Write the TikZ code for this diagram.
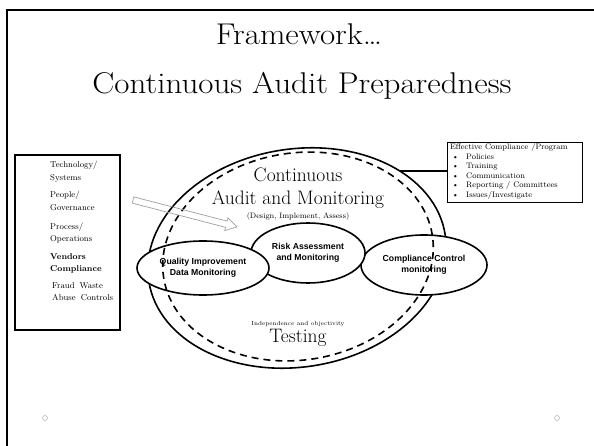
\documentclass[tikz,border=0pt]{standalone}
\usepackage{fontspec}
\setsansfont{Liberation Sans}
\usetikzlibrary{shapes.geometric,calc,shadows}
\begin{document}
\begin{tikzpicture}[x=1pt,y=-1pt,
  frame/.style={line width=2.6pt, black},
  titletxt/.style={anchor=base, inner sep=0pt, font=\fontsize{30}{32}\selectfont},
  lboxstyle/.style={draw, line width=1.6pt, minimum width=105pt, minimum height=175pt, inner sep=0pt},
  ltxt/.style={anchor=base west, inner sep=0pt, font=\fontsize{8.5}{10}\selectfont},
  rtxt/.style={anchor=base west, inner sep=0pt, font=\fontsize{8}{9}\selectfont},
  rboxstyle/.style={draw, line width=0.5pt, fill=white, minimum width=135pt, minimum height=60pt, inner sep=0pt,
     drop shadow={shadow xshift=1.3pt, shadow yshift=-1.3pt, fill=gray!70, opacity=1}},
  bigell/.style={ellipse, draw, line width=1.6pt, minimum width=300pt, minimum height=218pt, inner sep=0pt},
  dashell/.style={ellipse, draw, line width=1.6pt, dash pattern=on 7pt off 5pt, minimum width=272pt, minimum height=207pt, inner sep=0pt},
  smallell/.style={ellipse, draw, line width=1.6pt, fill=white, inner sep=0pt, align=center,
     font=\sffamily\bfseries\fontsize{8.7}{10.5}\selectfont},
  bigtxt/.style={anchor=base, inner sep=0pt, font=\fontsize{19.5}{21}\selectfont},
  smtxt/.style={anchor=base, inner sep=0pt, font=\fontsize{7.8}{9}\selectfont},
  tinytxt/.style={anchor=base, inner sep=0pt, font=\fontsize{5.9}{7}\selectfont},
  arrowstyle/.style={draw=gray!75, line width=0.7pt},
  dotc/.style={circle, draw=gray!60, line width=0.5pt, minimum size=5pt, inner sep=0pt}
]
\useasboundingbox (0,0) rectangle (594,446);
\fill[white] (0,0) rectangle (594,446);
% frame
\draw[frame] (7,446) -- (7,10) -- (594,10);
% titles
\node[titletxt] (t1) at (299,45) {\scalebox{1.1}[1]{Framework…}};
\node[titletxt] (t2) at (302,94) {\scalebox{1.1}[1]{Continuous Audit Preparedness}};
% left box
\node[lboxstyle] (lbox) at (67.5,242.5) {};
\node[ltxt] (l1) at (50,167.5) {Technology/};
\node[ltxt] (l2) at (50,180.5) {Systems};
\node[ltxt] (l3) at (50,197.5) {People/};
\node[ltxt] (l4) at (50,210.5) {Governance};
\node[ltxt] (l5) at (50,229.5) {Process/};
\node[ltxt] (l6) at (50,241.5) {Operations};
\node[ltxt] (l7) at (50,259.5) {\bfseries Vendors};
\node[ltxt] (l8) at (50,271.5) {\bfseries Compliance};
\node[ltxt] (l9) at (52,288.5) {Fraud\hskip 5pt Waste};
\node[ltxt] (l10) at (52,300.5) {Abuse\hskip 5pt Controls};
% big ellipses and inner ellipses
\node[bigell, rotate=9] (outer) at (297,258) {};
\node[smallell, minimum width=126pt, minimum height=60pt] (comp) at (424,265) {Compliance Control\\monitoring};
\node[smallell, minimum width=114pt, minimum height=60pt] (risk) at (308,253) {Risk Assessment\\and Monitoring};
\node[smallell, minimum width=132pt, minimum height=54pt] (qual) at (203,268) {Quality Improvement\\Data Monitoring};
\node[dashell, rotate=9] (inner) at (298,256.5) {};
% hollow arrow
\coordinate (arT) at (133,200);
\coordinate (arH) at (237,227);
\coordinate (arN) at ($(arH)!11pt!(arT)$);
\draw[arrowstyle] ($(arT)!3.2pt!90:(arH)$) -- ($(arN)!3.2pt!90:(arH)$) -- ($(arN)!6.5pt!90:(arH)$) -- (arH)
   -- ($(arN)!6.5pt!-90:(arH)$) -- ($(arN)!3.2pt!-90:(arH)$) -- ($(arT)!3.2pt!-90:(arH)$) -- cycle;
% texts in big ellipse
\node[bigtxt] (cont) at (298,182) {Continuous};
\node[bigtxt] (aam) at (298,205) {Audit and Monitoring};
\node[smtxt] (dia) at (298,219) {(Design, Implement, Assess)};
\node[tinytxt] (indep) at (298,325) {Independence and objectivity};
\node[bigtxt] (test) at (298,342) {Testing};
% right box
\node[rboxstyle] (rbox) at (514.5,172) {};
\node[rtxt] (r0) at (450,150) {Effective Compliance /Program};
\node[rtxt] (b1) at (452,159.5) {\textbullet};
\node[rtxt] (r1) at (466,159.5) {Policies};
\node[rtxt] (b2) at (452,169) {\textbullet};
\node[rtxt] (r2) at (466,169) {Training};
\node[rtxt] (b3) at (452,178.5) {\textbullet};
\node[rtxt] (r3) at (466,178.5) {Communication};
\node[rtxt] (b4) at (452,188) {\textbullet};
\node[rtxt] (r4) at (466,188) {Reporting / Committees};
\node[rtxt] (b5) at (452,197.5) {\textbullet};
\node[rtxt] (r5) at (466,197.5) {Issues/Investigate};
% connector
\coordinate (lnk) at (400,171);
\draw[line width=1.8pt] (lnk) -- (lnk -| rbox.west);
% small circles
\node[dotc] (c1) at (45,418) {};
\node[dotc] (c2) at (557,418) {};
\end{tikzpicture}
\end{document}
